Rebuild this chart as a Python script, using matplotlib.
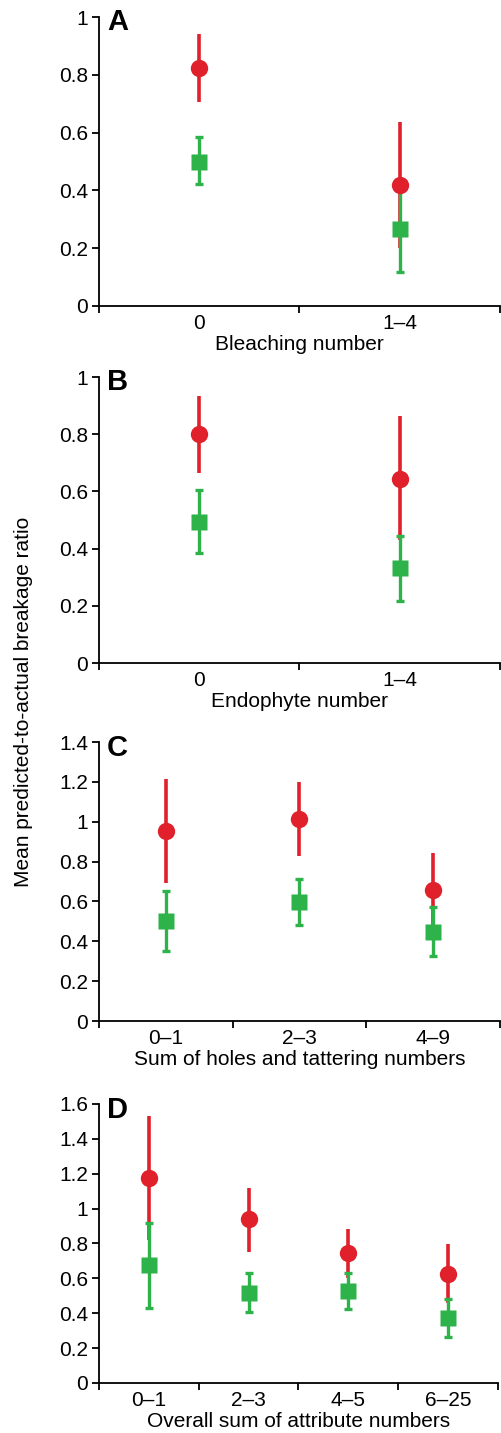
import numpy as np
import matplotlib.pyplot as plt

plt.rcParams['font.family'] = ['Liberation Sans', 'DejaVu Sans']

RED = '#e0202a'
GREEN = '#2db34a'

# Panel A - bleaching number
a_cats = ['0', '1\u20134']
a_red = [0.822, 0.418]
a_red_lo = [0.707, 0.20]
a_red_hi = [0.940, 0.637]
a_green = [0.499, 0.265]
a_green_lo = [0.421, 0.118]
a_green_hi = [0.584, 0.41]

# Panel B - endophyte number
b_cats = ['0', '1\u20134']
b_red = [0.800, 0.645]
b_red_lo = [0.663, 0.43]
b_red_hi = [0.934, 0.864]
b_green = [0.494, 0.331]
b_green_lo = [0.384, 0.218]
b_green_hi = [0.605, 0.445]

# Panel C - holes and tattering
c_cats = ['0\u20131', '2\u20133', '4\u20139']
c_red = [0.955, 1.015, 0.657]
c_red_lo = [0.694, 0.829, 0.47]
c_red_hi = [1.216, 1.200, 0.841]
c_green = [0.503, 0.597, 0.448]
c_green_lo = [0.353, 0.480, 0.325]
c_green_hi = [0.652, 0.712, 0.570]

# Panel D - overall sum of attributes
d_cats = ['0\u20131', '2\u20133', '4\u20135', '6\u201325']
d_red = [1.175, 0.938, 0.744, 0.627]
d_red_lo = [0.82, 0.753, 0.60, 0.46]
d_red_hi = [1.531, 1.120, 0.883, 0.799]
d_green = [0.677, 0.518, 0.527, 0.375]
d_green_lo = [0.428, 0.409, 0.422, 0.262]
d_green_hi = [0.919, 0.629, 0.632, 0.483]

panels = [
    ('A', a_cats, a_red, a_red_lo, a_red_hi, a_green, a_green_lo, a_green_hi,
     'Bleaching number', 1.0, 0.2, [0.1976, 0.7865, 0.8004, 0.2016]),
    ('B', b_cats, b_red, b_red_lo, b_red_hi, b_green, b_green_lo, b_green_hi,
     'Endophyte number', 1.0, 0.2, [0.1976, 0.5373, 0.8004, 0.1996]),
    ('C', c_cats, c_red, c_red_lo, c_red_hi, c_green, c_green_lo, c_green_hi,
     'Sum of holes and tattering numbers', 1.4, 0.2, [0.1976, 0.2875, 0.8004, 0.1947]),
    ('D', d_cats, d_red, d_red_lo, d_red_hi, d_green, d_green_lo, d_green_hi,
     'Overall sum of attribute numbers', 1.6, 0.2, [0.1976, 0.0349, 0.7964, 0.1947]),
]

FS = 15

fig = plt.figure(figsize=(5.01, 14.33), dpi=100)

for letter, cats, red, rlo, rhi, green, glo, ghi, xlabel, ymax, ystep, rect in panels:
    ax = fig.add_axes(rect)
    n = len(cats)
    x = np.arange(n) + 0.5
    red = np.array(red); green = np.array(green)
    rerr = [red - np.array(rlo), np.array(rhi) - red]
    gerr = [green - np.array(glo), np.array(ghi) - green]

    ax.errorbar(x, red, yerr=rerr, fmt='none', ecolor=RED, elinewidth=2.6,
                capsize=0, zorder=2)
    ax.errorbar(x, green, yerr=gerr, fmt='none', ecolor=GREEN, elinewidth=2.4,
                capsize=3.2, capthick=2.4, zorder=3)
    ax.plot(x, green, 's', color=GREEN, markersize=11, mec='none', zorder=4)
    ax.plot(x, red, 'o', color=RED, markersize=12.5, mec='none', zorder=5)

    ax.set_xlim(0, n)
    ax.set_ylim(0, ymax)
    ax.set_xticks(np.arange(n + 1))
    ax.set_xticklabels([])
    ax.set_xticks(x, minor=True)
    ax.set_xticklabels(cats, minor=True)
    ax.tick_params(axis='x', which='minor', length=0, labelsize=FS, pad=6)
    ax.tick_params(axis='x', which='major', length=5, width=1.3, direction='out')

    yt = np.round(np.arange(0, ymax + 1e-9, ystep), 1)
    ax.set_yticks(yt)
    ax.set_yticklabels([('%g' % v) for v in yt])
    ax.tick_params(axis='y', length=5, width=1.3, labelsize=FS, pad=3)

    for s in ['top', 'right']:
        ax.spines[s].set_visible(False)
    for s in ['left', 'bottom']:
        ax.spines[s].set_linewidth(1.3)
    ax.spines['bottom'].set_bounds(0, n)
    ax.spines['left'].set_bounds(0, ymax)
    ax.set_xlabel(xlabel, fontsize=FS, labelpad=1)

    ax.text(0.02, 1.03, letter, transform=ax.transAxes, fontsize=21,
            fontweight='bold', ha='left', va='top')

fig.text(0.046, 0.51, 'Mean predicted-to-actual breakage ratio', rotation=90,
         fontsize=FS, ha='center', va='center')

fig.savefig('out.png', dpi=100)
